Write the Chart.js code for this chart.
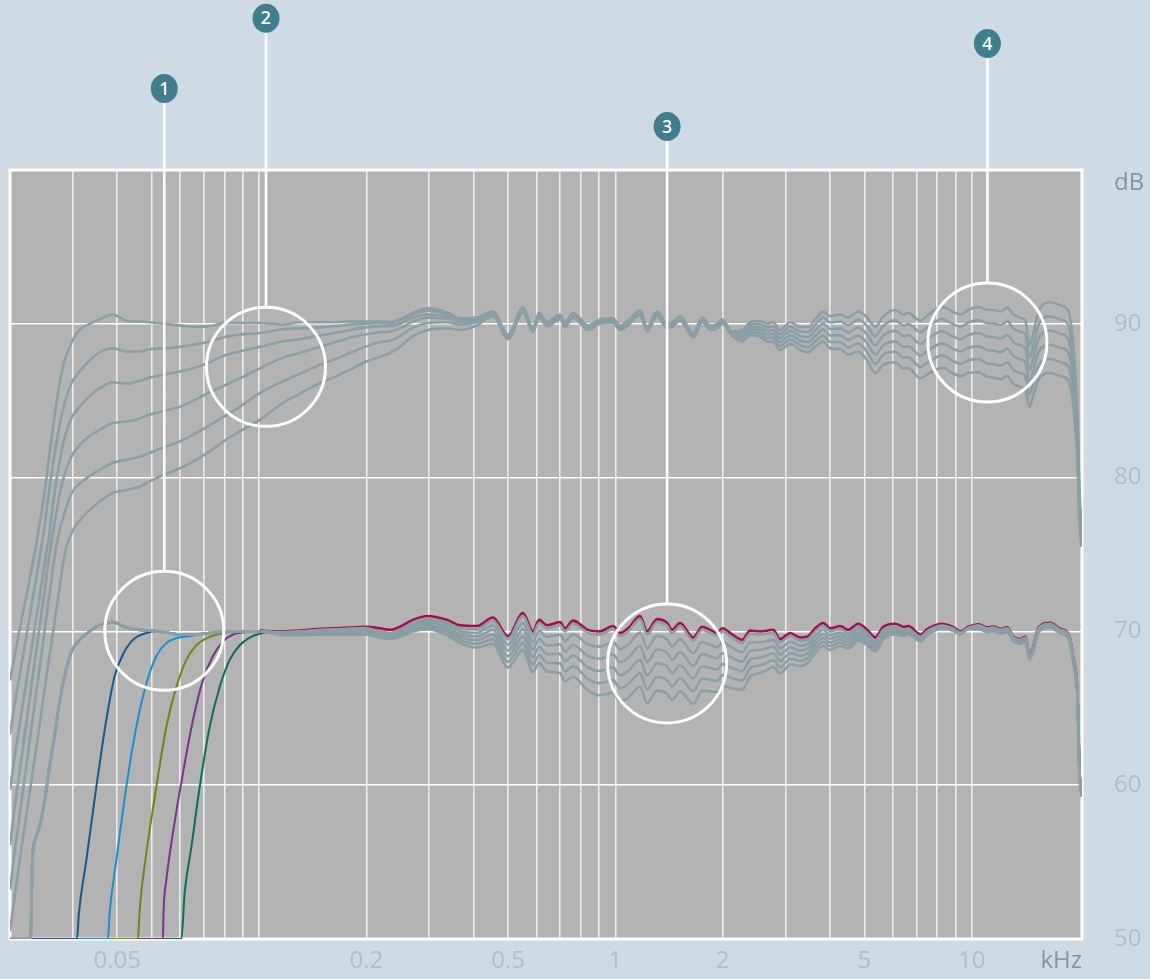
<!DOCTYPE html>
<html>
<head>
<meta charset="utf-8">
<script src="https://cdn.jsdelivr.net/npm/chart.js@4.4.1/dist/chart.umd.min.js"></script>
<style>
  html, body { margin: 0; padding: 0; background: #cfdbe4; overflow: hidden; }
  #wrap { width: 1150px; height: 979px; }
</style>
</head>
<body>
<div id="wrap"><canvas id="fr" width="1150" height="979"></canvas></div>
<script>
// frequency grid in kHz (shared by the gray curves)
const freqBass = [0.02, 0.02059, 0.02127, 0.02197, 0.02284, 0.02313, 0.02359, 0.02421, 0.025, 0.02582, 0.02667, 0.02755, 0.02846, 0.02978, 0.03134, 0.03345, 0.03568, 0.03882, 0.04249, 0.04623, 0.04932, 0.05433, 0.05987, 0.06598, 0.0727, 0.08011, 0.08827, 0.10045, 0.1166, 0.1301, 0.1452, 0.1632, 0.1798, 0.1981];
const freqLowMid = [0.2183, 0.2329, 0.2485, 0.2702, 0.2977, 0.3367, 0.3663, 0.4088];
const freqMid = [0.4534, 0.4995, 0.5505, 0.5873, 0.6106, 0.6429, 0.6993, 0.7223, 0.7606, 0.8381, 0.9057, 0.9851, 1.031, 1.086, 1.173, 1.227, 1.31, 1.397, 1.443, 1.519, 1.654, 1.752, 1.845, 1.931, 1.994, 2.127];
const freqTreble = [2.27, 2.389, 2.55, 2.668, 2.773, 2.901, 3.095, 3.302, 3.477, 3.639, 3.832, 4.01, 4.278, 4.505, 4.805, 5.093, 5.363, 5.649, 6.106, 6.429, 6.641, 7.177, 7.558, 8.275, 8.827, 9.297, 9.788, 10.44, 11.07, 11.51, 12.04, 12.6, 13.09, 13.7, 14.15, 14.53, 14.91, 15.4, 16.64, 17.75, 18.69, 19.31, 19.82, 20.07, 20.33];

// upper group (around 90 dB): bass shelf part, mid part, treble shelf part
const upperLow1 = [66.8, 68.4, 70.1, 71.7, 73.7, 74.4, 75.4, 77.0, 79.0, 81.6, 84.0, 86.1, 87.6, 88.8, 89.6, 90.0, 90.3, 90.6, 90.2, 90.15, 90.1, 90.0, 89.9, 89.8, 89.85, 90.05, 90.05, 90.05, 89.95, 90.1, 90.1, 90.1, 90.15, 90.15, 90.15, 90.1, 90.3, 90.7, 91.0, 90.75, 90.35, 90.4];
const upperLow2 = [63.3, 65.2, 67.1, 69.0, 71.3, 72.1, 73.2, 74.8, 76.8, 79.4, 81.5, 83.4, 84.8, 86.15, 86.9, 87.6, 88.15, 88.4, 88.2, 88.2, 88.35, 88.4, 88.5, 88.65, 88.85, 89.15, 89.3, 89.4, 89.65, 89.7, 89.75, 89.85, 89.95, 90.0, 90.05, 90.0, 90.2, 90.6, 90.85, 90.65, 90.3, 90.35];
const upperLow3 = [59.7, 61.8, 63.9, 66.0, 68.5, 69.3, 70.6, 72.2, 74.3, 76.4, 79.0, 81.0, 82.6, 83.9, 84.6, 85.3, 85.8, 86.2, 86.1, 86.3, 86.5, 86.7, 86.9, 87.15, 87.5, 87.95, 88.2, 88.5, 88.85, 89.0, 89.2, 89.4, 89.6, 89.75, 89.85, 89.85, 90.0, 90.4, 90.6, 90.5, 90.2, 90.3];
const upperLow4 = [56.1, 58.5, 60.8, 63.2, 66.0, 67.0, 68.4, 70.3, 72.6, 75.0, 77.0, 78.9, 80.2, 81.4, 82.1, 82.7, 83.1, 83.55, 83.65, 83.85, 84.1, 84.35, 84.6, 85.05, 85.55, 86.0, 86.45, 87.1, 87.8, 88.1, 88.45, 88.8, 89.1, 89.3, 89.45, 89.5, 89.7, 90.15, 90.4, 90.35, 90.1, 90.2];
const upperLow5 = [53.2, 55.6, 58.0, 60.4, 63.3, 64.2, 65.7, 67.6, 70.0, 72.4, 74.8, 76.6, 77.7, 79.0, 79.6, 80.1, 80.5, 80.95, 81.15, 81.35, 81.6, 82.0, 82.35, 82.85, 83.4, 84.0, 84.6, 85.5, 86.25, 86.75, 87.25, 87.7, 88.1, 88.5, 88.8, 88.9, 89.2, 89.75, 90.05, 90.1, 89.95, 90.1];
const upperLow6 = [50.5, 52.7, 55.0, 57.2, 59.9, 60.8, 62.1, 63.9, 66.2, 68.4, 70.6, 72.8, 75.0, 76.4, 77.2, 77.9, 78.45, 79.0, 79.2, 79.4, 79.75, 80.2, 80.6, 81.1, 81.7, 82.4, 83.0, 83.75, 84.85, 85.45, 86.05, 86.55, 87.0, 87.5, 87.85, 88.1, 88.5, 89.2, 89.6, 89.7, 89.6, 89.9];

const upperMid1 = [90.8, 89.3, 91.05, 89.75, 90.7, 90.15, 90.6, 90.1, 90.7, 89.9, 90.3, 90.35, 89.9, 90.2, 90.9, 89.8, 90.8, 90.0, 90.1, 90.5, 89.4, 90.4, 89.9, 90.0, 90.3, 89.5];
const upperMid2 = [90.74, 89.24, 90.99, 89.69, 90.64, 90.09, 90.54, 90.04, 90.64, 89.84, 90.24, 90.29, 89.84, 90.14, 90.84, 89.74, 90.74, 89.94, 90.04, 90.44, 89.34, 90.34, 89.84, 89.94, 90.24, 89.44];
const upperMid3 = [90.68, 89.18, 90.93, 89.63, 90.58, 90.03, 90.48, 89.98, 90.58, 89.78, 90.18, 90.23, 89.78, 90.08, 90.78, 89.68, 90.68, 89.88, 89.98, 90.38, 89.28, 90.28, 89.78, 89.88, 90.18, 89.38];
const upperMid4 = [90.62, 89.12, 90.87, 89.57, 90.52, 89.97, 90.42, 89.92, 90.52, 89.72, 90.12, 90.17, 89.72, 90.02, 90.72, 89.62, 90.62, 89.82, 89.92, 90.32, 89.22, 90.22, 89.72, 89.82, 90.12, 89.32];
const upperMid5 = [90.56, 89.06, 90.81, 89.51, 90.46, 89.91, 90.36, 89.86, 90.46, 89.66, 90.06, 90.11, 89.66, 89.96, 90.66, 89.56, 90.56, 89.76, 89.86, 90.26, 89.16, 90.16, 89.66, 89.76, 90.06, 89.26];
const upperMid6 = [90.5, 89.0, 90.75, 89.45, 90.4, 89.85, 90.3, 89.8, 90.4, 89.6, 90.0, 90.05, 89.6, 89.9, 90.6, 89.5, 90.5, 89.7, 89.8, 90.2, 89.1, 90.1, 89.6, 89.7, 90.0, 89.2];

const upperHigh1 = [89.6, 90.1, 90.2, 90.0, 90.1, 89.6, 90.1, 89.8, 89.8, 90.3, 90.8, 90.5, 90.6, 90.4, 90.8, 90.4, 89.8, 90.5, 90.9, 90.6, 90.7, 90.2, 90.6, 91.1, 90.8, 90.6, 90.9, 91.1, 90.9, 90.9, 90.8, 91.05, 90.6, 90.4, 90.2, 88.6, 89.4, 90.8, 91.4, 91.2, 90.8, 88.5, 84, 79, 77];
const upperHigh2 = [89.45, 89.93, 89.99, 89.77, 89.85, 89.34, 89.82, 89.5, 89.47, 89.94, 90.41, 90.08, 90.15, 89.92, 90.28, 89.84, 89.2, 89.87, 90.22, 89.9, 89.98, 89.45, 89.83, 90.31, 90.0, 89.8, 90.08, 90.25, 90.03, 90.02, 89.92, 90.16, 89.7, 89.5, 89.3, 87.8, 88.6, 89.92, 90.48, 90.28, 89.9, 87.7, 83.4, 78.6, 76.7];
const upperHigh3 = [89.3, 89.76, 89.78, 89.54, 89.6, 89.08, 89.54, 89.2, 89.14, 89.58, 90.02, 89.66, 89.7, 89.44, 89.76, 89.28, 88.6, 89.24, 89.54, 89.2, 89.26, 88.7, 89.06, 89.52, 89.2, 89.0, 89.26, 89.4, 89.16, 89.14, 89.04, 89.27, 88.8, 88.6, 88.4, 87.0, 87.8, 89.04, 89.56, 89.36, 89.0, 86.9, 82.8, 78.2, 76.4];
const upperHigh4 = [89.15, 89.59, 89.57, 89.31, 89.35, 88.82, 89.26, 88.9, 88.81, 89.22, 89.63, 89.24, 89.25, 88.96, 89.24, 88.72, 88.0, 88.61, 88.86, 88.5, 88.54, 87.95, 88.29, 88.73, 88.4, 88.2, 88.44, 88.55, 88.29, 88.26, 88.16, 88.38, 87.9, 87.7, 87.5, 86.2, 87.0, 88.16, 88.64, 88.44, 88.1, 86.1, 82.2, 77.8, 76.1];
const upperHigh5 = [89.0, 89.42, 89.36, 89.08, 89.1, 88.56, 88.98, 88.6, 88.48, 88.86, 89.24, 88.82, 88.8, 88.48, 88.72, 88.16, 87.4, 87.98, 88.18, 87.8, 87.82, 87.2, 87.52, 87.94, 87.6, 87.4, 87.62, 87.7, 87.42, 87.38, 87.28, 87.49, 87.0, 86.8, 86.6, 85.4, 86.2, 87.28, 87.72, 87.52, 87.2, 85.3, 81.6, 77.4, 75.8];
const upperHigh6 = [88.85, 89.25, 89.15, 88.85, 88.85, 88.3, 88.7, 88.3, 88.15, 88.5, 88.85, 88.4, 88.35, 88.0, 88.2, 87.6, 86.8, 87.35, 87.5, 87.1, 87.1, 86.45, 86.75, 87.15, 86.8, 86.6, 86.8, 86.85, 86.55, 86.5, 86.4, 86.6, 86.1, 85.9, 85.7, 84.6, 85.4, 86.4, 86.8, 86.6, 86.3, 84.5, 81.0, 77.0, 75.5];

// lower group (around 70 dB): shared bass, presence-dip mid part, top end
const lowerBass = [50, 50, 50, 50, 50, 55.3, 56.5, 57.3, 58.9, 61.2, 63.2, 65.4, 67.1, 68.7, 69.45, 70.0, 70.4, 70.6, 70.25, 70.1, 70.05, 69.95, 69.8, 69.8, 69.9, 70.0, 70.0, 70.0];

const lowerMid1 = [69.96, 70.0, 70.09, 70.13, 70.18, 70.22,
  70.0, 69.9, 70.1, 70.55, 70.8, 70.55, 70.2, 70.15,
  70.7, 69.5, 71.0, 69.8, 70.55, 70.2, 70.4, 70.0, 70.5, 69.9, 69.8, 70.15, 69.7, 70.0, 70.8, 69.8, 70.6, 70.35, 69.9, 70.35, 69.4, 70.1, 69.9, 69.7, 70.0, 69.6,
  69.25, 69.85, 69.8, 69.85, 69.9, 69.3, 69.7, 69.4, 69.5, 70.0, 70.35, 70.0, 70.15, 69.9, 70.3, 69.9, 69.4, 70.1, 70.3, 70.1, 70.15,
  69.64, 70.06, 70.38, 70.2, 69.92, 70.23];
const lowerMid2 = [69.92, 69.95, 70.03, 70.07, 70.1, 70.13,
  69.92, 69.82, 70.01, 70.44, 70.67, 70.39, 70.01, 69.91,
  70.4, 69.13, 70.56, 69.31, 70.03, 69.64, 69.78, 69.35, 69.81, 69.15, 69.01, 69.32, 68.85, 69.14, 69.92, 68.91, 69.71, 69.47, 69.03, 69.5, 68.58, 69.31, 69.14, 68.97, 69.29, 68.94,
  68.64, 69.29, 69.3, 69.38, 69.46, 68.89, 69.33, 69.07, 69.2, 69.72, 70.09, 69.76, 69.93, 69.7, 70.12, 69.74, 69.26, 69.98, 70.2, 70.02, 70.08,
  69.58, 70.01, 70.34, 70.17, 69.9, 70.21];
const lowerMid3 = [69.88, 69.9, 69.98, 70.0, 70.03, 70.05,
  69.84, 69.74, 69.92, 70.33, 70.54, 70.23, 69.82, 69.67,
  70.1, 68.76, 70.12, 68.82, 69.51, 69.08, 69.16, 68.7, 69.12, 68.4, 68.22, 68.49, 68.0, 68.28, 69.04, 68.02, 68.82, 68.59, 68.16, 68.65, 67.76, 68.52, 68.38, 68.24, 68.58, 68.28,
  68.03, 68.73, 68.8, 68.91, 69.02, 68.48, 68.96, 68.74, 68.9, 69.44, 69.83, 69.52, 69.71, 69.5, 69.94, 69.58, 69.12, 69.86, 70.1, 69.94, 70.01,
  69.52, 69.96, 70.31, 70.14, 69.87, 70.2];
const lowerMid4 = [69.83, 69.85, 69.92, 69.93, 69.95, 69.97,
  69.76, 69.66, 69.83, 70.22, 70.41, 70.07, 69.63, 69.43,
  69.8, 68.39, 69.68, 68.33, 68.99, 68.52, 68.54, 68.05, 68.43, 67.65, 67.43, 67.66, 67.15, 67.42, 68.16, 67.13, 67.93, 67.71, 67.29, 67.8, 66.94, 67.73, 67.62, 67.51, 67.87, 67.62,
  67.42, 68.17, 68.3, 68.44, 68.58, 68.07, 68.59, 68.41, 68.6, 69.16, 69.57, 69.28, 69.49, 69.3, 69.76, 69.42, 68.98, 69.74, 70.0, 69.86, 69.94,
  69.47, 69.9, 70.27, 70.11, 69.85, 70.18];
const lowerMid5 = [69.79, 69.8, 69.86, 69.87, 69.88, 69.88,
  69.68, 69.58, 69.74, 70.11, 70.28, 69.91, 69.44, 69.19,
  69.5, 68.02, 69.24, 67.84, 68.47, 67.96, 67.92, 67.4, 67.74, 66.9, 66.64, 66.83, 66.3, 66.56, 67.28, 66.24, 67.04, 66.83, 66.42, 66.95, 66.12, 66.94, 66.86, 66.78, 67.16, 66.96,
  66.81, 67.61, 67.8, 67.97, 68.14, 67.66, 68.22, 68.08, 68.3, 68.88, 69.31, 69.04, 69.27, 69.1, 69.58, 69.26, 68.84, 69.62, 69.9, 69.78, 69.87,
  69.41, 69.85, 70.24, 70.08, 69.82, 70.17];
const lowerMid6 = [69.75, 69.75, 69.8, 69.8, 69.8, 69.8,
  69.6, 69.5, 69.65, 70.0, 70.15, 69.75, 69.25, 68.95,
  69.2, 67.65, 68.8, 67.35, 67.95, 67.4, 67.3, 66.75, 67.05, 66.15, 65.85, 66.0, 65.45, 65.7, 66.4, 65.35, 66.15, 65.95, 65.55, 66.1, 65.3, 66.15, 66.1, 66.05, 66.45, 66.3,
  66.2, 67.05, 67.3, 67.5, 67.7, 67.25, 67.85, 67.75, 68.0, 68.6, 69.05, 68.8, 69.05, 68.9, 69.4, 69.1, 68.7, 69.5, 69.8, 69.7, 69.8,
  69.35, 69.8, 70.2, 70.05, 69.8, 70.15];
const crimsonMid = [70.05, 70.0, 70.05, 70.15, 70.2, 70.25, 70.3,
  70.2, 70.1, 70.3, 70.75, 71.0, 70.75, 70.4, 70.35,
  70.9, 69.7, 71.2, 70.0, 70.75, 70.4, 70.6, 70.2, 70.7, 70.1, 70.0, 70.35, 69.9, 70.2, 71.0, 70.0, 70.8, 70.55, 70.1, 70.55, 69.6, 70.3, 70.1, 69.9, 70.2, 69.8,
  69.45, 70.05, 70.0, 70.05, 70.1, 69.5, 69.9, 69.6, 69.7, 70.2, 70.55, 70.2, 70.35, 70.1, 70.5, 70.1, 69.6, 70.3, 70.5, 70.3, 70.35,
  69.8, 70.2, 70.5, 70.3, 70.0, 70.3];

const lowerHigh1 = [70.4, 70.2, 70.25, 70.1, 70.2, 69.6, 69.45, 69.6, 68.4, 69.0, 70.2, 70.5, 70.1, 69.8, 68.15, 65.8, 61.0, 59.5];
const lowerHigh2 = [70.35, 70.15, 70.2, 70.05, 70.15, 69.55, 69.4, 69.55, 68.35, 68.95, 70.15, 70.45, 70.05, 69.75, 68.1, 65.75, 60.95, 59.45];
const lowerHigh3 = [70.3, 70.1, 70.15, 70.0, 70.1, 69.5, 69.35, 69.5, 68.3, 68.9, 70.1, 70.4, 70.0, 69.7, 68.05, 65.7, 60.9, 59.4];
const lowerHigh4 = [70.25, 70.05, 70.1, 69.95, 70.05, 69.45, 69.3, 69.45, 68.25, 68.85, 70.05, 70.35, 69.95, 69.65, 68.0, 65.65, 60.85, 59.35];
const lowerHigh5 = [70.2, 70.0, 70.05, 69.9, 70.0, 69.4, 69.25, 69.4, 68.2, 68.8, 70.0, 70.3, 69.9, 69.6, 67.95, 65.6, 60.8, 59.3];
const lowerHigh6 = [70.15, 69.95, 70.0, 69.85, 69.95, 69.35, 69.2, 69.35, 68.15, 68.75, 69.95, 70.25, 69.85, 69.55, 67.9, 65.55, 60.75, 59.25];
const crimsonHigh = [70.46, 70.26, 70.31, 70.16, 70.26, 69.66, 69.51, 69.66, 68.46, 69.06, 70.26, 70.56, 70.16, 69.86, 68.21, 65.86, 61.06, 59.56];

// high-pass filter variants (own frequency points)
const hp1Freq = [0.02, 0.03083, 0.03122, 0.03274, 0.03494, 0.03727, 0.03933, 0.0415, 0.04427, 0.04828, 0.0515, 0.05987];
const hp1Db = [50, 50, 51.7, 55.1, 59.9, 64.25, 67.1, 68.5, 69.45, 69.9, 70.0, 69.8];
const hp2Freq = [0.02, 0.03766, 0.03808, 0.03976, 0.04241, 0.04525, 0.04828, 0.0515, 0.05494, 0.05861, 0.06389, 0.0727];
const hp2Db = [50, 50, 51.7, 55.1, 59.9, 63.8, 66.6, 68.4, 69.25, 69.55, 69.7, 69.9];
const hp3Freq = [0.02, 0.04572, 0.04623, 0.04828, 0.0515, 0.05494, 0.05861, 0.06252, 0.06671, 0.07117, 0.07756, 0.08827];
const hp3Db = [50, 50, 51.9, 55.6, 59.9, 63.8, 66.4, 68.15, 69.1, 69.55, 69.85, 70.0];
const hp4Freq = [0.02, 0.05374, 0.05398, 0.05494, 0.05733, 0.06118, 0.06527, 0.06963, 0.07427, 0.07922, 0.08452, 0.08827, 0.10045];
const hp4Db = [50, 50, 51.9, 53.85, 56.9, 60.8, 64.25, 66.85, 68.4, 69.35, 69.8, 69.9, 70.0];
const hp5Freq = [0.02, 0.06053, 0.06183, 0.06459, 0.06815, 0.0727, 0.07756, 0.08273, 0.08827, 0.09416, 0.10045, 0.10717];
const hp5Db = [50, 50, 53.0, 56.0, 59.9, 63.8, 66.4, 68.15, 69.1, 69.6, 69.85, 69.95];

// axes
const xTickValues = [0.03, 0.04, 0.05, 0.06, 0.07, 0.08, 0.09, 0.1, 0.2, 0.3, 0.4, 0.5, 0.6, 0.7, 0.8, 0.9, 1, 2, 3, 4, 5, 6, 7, 8, 9, 10];
const xTickText = ['', '0.05', '', '', '', '', '', '', '0.2', '', '', '0.5', '', '', '', '', '1', '2', '', '', '5', '', '', '', '', '10'];
const yTickValues = [50, 60, 70, 80, 90, 100];
const yTickText = ['50', '60', '70', '80', '90', ''];

// numbered callouts: frequency, ring centre (dB), badge (dB)
const calloutText = ['1', '2', '3', '4'];
const calloutFreq = [0.0542, 0.1046, 1.397, 11.07];
const calloutRingDb = [70.04, 87.2, 67.92, 88.78];
const calloutBadgeDb = [105.3, 109.86, 102.83, 108.23];

const FONT = "'Open Sans', sans-serif";
const GRAY = '#8a9fa5';
const TICK_COLOR = '#a7c0cd';
const UNIT_COLOR = '#7f98a0';

const freqGrid = [...freqBass, ...freqLowMid, ...freqMid, ...freqTreble];

function pts(xs, ys) {
  return ys.map((y, i) => ({ x: xs[i], y }));
}
function tail(ys) {
  return pts(freqGrid.slice(freqGrid.length - ys.length), ys);
}
function line(data, color, width) {
  return { data, borderColor: color, borderWidth: width, pointRadius: 0, fill: false, cubicInterpolationMode: 'monotone', clip: 0 };
}

const upper = [
  [upperLow1, upperMid1, upperHigh1], [upperLow2, upperMid2, upperHigh2], [upperLow3, upperMid3, upperHigh3],
  [upperLow4, upperMid4, upperHigh4], [upperLow5, upperMid5, upperHigh5], [upperLow6, upperMid6, upperHigh6],
];
const lower = [
  [lowerMid1, lowerHigh1], [lowerMid2, lowerHigh2], [lowerMid3, lowerHigh3],
  [lowerMid4, lowerHigh4], [lowerMid5, lowerHigh5], [lowerMid6, lowerHigh6],
];

// first dataset is drawn on top
const datasets = [];
upper.forEach(parts => datasets.push(line(pts(freqGrid, [].concat(...parts)), GRAY, 2.6)));
lower.forEach(parts => datasets.push(line(pts(freqGrid, [...lowerBass, ...parts[0], ...parts[1]]), GRAY, 2.6)));
datasets.push(line(pts(hp1Freq, hp1Db), '#135a8e', 2));
datasets.push(line(pts(hp2Freq, hp2Db), '#1a91c8', 2));
datasets.push(line(pts(hp3Freq, hp3Db), '#6e8714', 2));
datasets.push(line(pts(hp4Freq, hp4Db), '#7d328c', 2));
datasets.push(line(pts(hp5Freq, hp5Db), '#0a6e5f', 2));
datasets.push(line(tail([...crimsonMid, ...crimsonHigh]), '#a50f50', 2.6));

const decor = {
  id: 'decor',
  beforeDraw(chart) {
    const { ctx, chartArea: a } = chart;
    ctx.save();
    ctx.fillStyle = '#b3b3b4';
    ctx.fillRect(a.left, a.top, a.right - a.left, a.bottom - a.top);
    ctx.restore();
  },
  beforeDatasetsDraw(chart) {
    const { ctx, chartArea: a } = chart;
    ctx.save();
    ctx.strokeStyle = '#ffffff';
    ctx.lineWidth = 3;
    ctx.strokeRect(a.left, a.top, a.right - a.left, a.bottom - a.top);
    ctx.restore();
  },
  afterDatasetsDraw(chart) {
    const { ctx, chartArea: a, scales: { x, y } } = chart;
    ctx.save();
    calloutText.forEach((t, i) => {
      const cx = x.getPixelForValue(calloutFreq[i]);
      const ry = y.getPixelForValue(calloutRingDb[i]);
      const by = y.getPixelForValue(calloutBadgeDb[i]);
      ctx.strokeStyle = '#ffffff';
      ctx.lineWidth = 2.6;
      ctx.beginPath();
      ctx.moveTo(cx, by + 14);
      ctx.lineTo(cx, ry - 59.5);
      ctx.stroke();
      ctx.lineWidth = 3;
      ctx.beginPath();
      ctx.arc(cx, ry, 59.5, 0, Math.PI * 2);
      ctx.stroke();
      ctx.fillStyle = '#407d8d';
      ctx.beginPath();
      ctx.ellipse(cx, by, 13.5, 14.5, 0, 0, Math.PI * 2);
      ctx.fill();
      ctx.fillStyle = '#ffffff';
      ctx.font = '600 18px ' + FONT;
      ctx.textAlign = 'center';
      ctx.textBaseline = 'middle';
      ctx.fillText(t, cx, by + 1);
    });
    ctx.fillStyle = UNIT_COLOR;
    ctx.font = '24px ' + FONT;
    ctx.textBaseline = 'middle';
    ctx.textAlign = 'left';
    ctx.fillText('dB', a.right + 32, a.top + 13);
    ctx.textAlign = 'right';
    ctx.fillText('kHz', a.right, a.bottom + 22.4);
    ctx.restore();
  }
};

new Chart(document.getElementById('fr'), {
  type: 'line',
  data: { datasets },
  plugins: [decor],
  options: {
    responsive: false,
    animation: false,
    layout: { padding: { left: 10, top: 170, right: 0, bottom: 0 } },
    plugins: { legend: { display: false }, tooltip: { enabled: false } },
    scales: {
      x: {
        type: 'logarithmic', min: 0.02, max: 20.4,
        afterBuildTicks: s => { s.ticks = xTickValues.map(v => ({ value: v })); },
        afterFit: s => { s.height = 40; s.paddingLeft = 0; s.paddingRight = 0; },
        ticks: {
          autoSkip: false, maxRotation: 0, minRotation: 0, padding: 8,
          color: TICK_COLOR, font: { family: FONT, size: 24 },
          callback: (v, i) => xTickText[i]
        },
        grid: { color: '#ececec', lineWidth: 1.6, drawTicks: false },
        border: { display: false }
      },
      y: {
        type: 'linear', position: 'right', min: 50, max: 100,
        afterBuildTicks: s => { s.ticks = yTickValues.map(v => ({ value: v })); },
        afterFit: s => { s.width = 68; s.paddingTop = 0; s.paddingBottom = 0; },
        ticks: {
          padding: 32, color: TICK_COLOR, font: { family: FONT, size: 24 },
          callback: (v, i) => yTickText[i]
        },
        grid: { color: '#ffffff', lineWidth: 1.5, drawTicks: false },
        border: { display: false }
      }
    }
  }
});
</script>
</body>
</html>
